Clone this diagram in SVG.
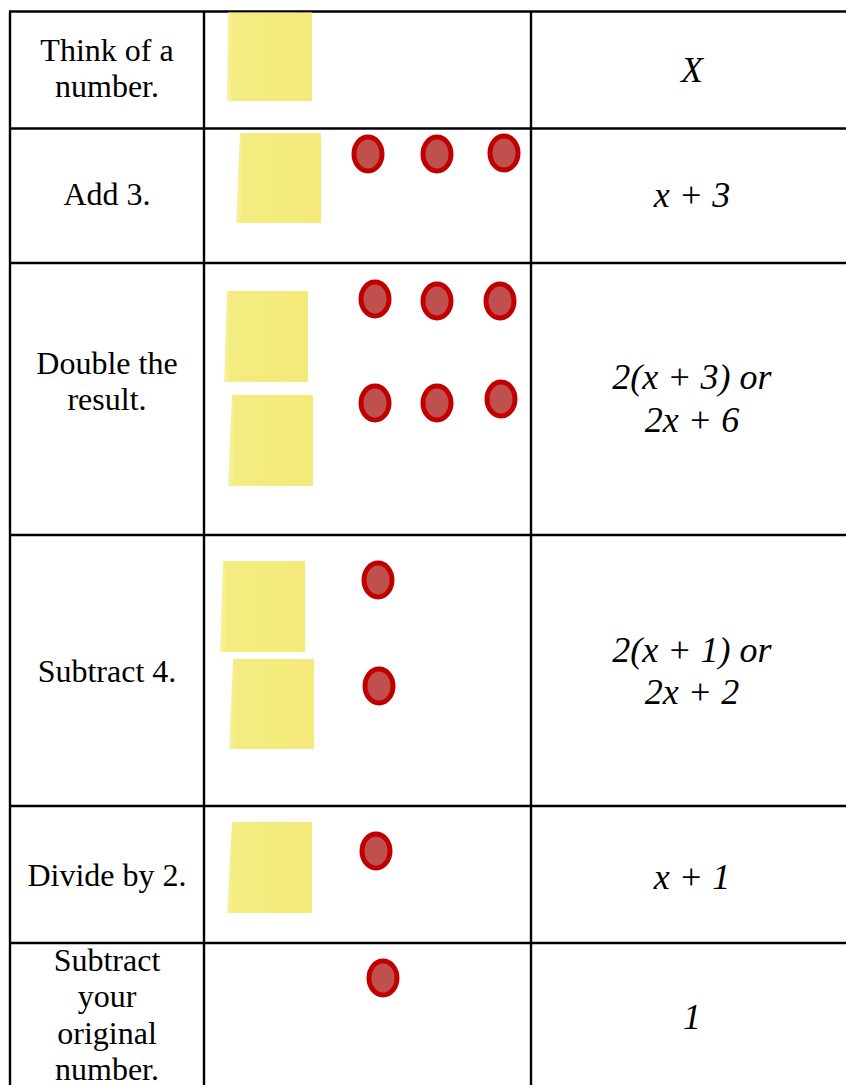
<svg xmlns="http://www.w3.org/2000/svg" width="846" height="1085" viewBox="0 0 846 1085">
<style>
.step{font-family:"Liberation Serif","Times New Roman",serif;font-size:32px;fill:#000;text-anchor:middle}
.expr{font-family:"Liberation Serif","Times New Roman",serif;font-size:36px;font-style:italic;fill:#000;text-anchor:middle}
.grid line{stroke:#000;stroke-width:2.4}
.note{fill:url(#noteGrad)}
.chip{fill:#C0504D;stroke:#C00000;stroke-width:5}
</style>
<defs>
<linearGradient id="noteGrad" x1="0" y1="0" x2="1" y2="0">
<stop offset="0" stop-color="#F8F2A8"/>
<stop offset="0.08" stop-color="#F3EC80"/>
<stop offset="1" stop-color="#F4EA7A"/>
</linearGradient>
</defs>
<rect x="0" y="0" width="846" height="1085" fill="#fff"/>
<g id="connectors" class="grid">
<line x1="10" y1="11.5" x2="10" y2="1085"/>
<line x1="204" y1="11.5" x2="204" y2="1085"/>
<line x1="531" y1="11.5" x2="531" y2="1085"/>
<line x1="9" y1="11.5" x2="846" y2="11.5"/>
<line x1="9" y1="128.5" x2="846" y2="128.5"/>
<line x1="9" y1="263" x2="846" y2="263"/>
<line x1="9" y1="535" x2="846" y2="535"/>
<line x1="9" y1="806" x2="846" y2="806"/>
<line x1="9" y1="943" x2="846" y2="943"/>
</g>
<g id="row1">
<text class="step" x="107" y="61">Think of a</text>
<text class="step" x="107" y="97">number.</text>
<polygon class="note" points="228,12.5 312,12.5 312,101 227,101"/>
<text class="expr" x="692" y="82">X</text>
</g>
<g id="row2">
<text class="step" x="107" y="205">Add 3.</text>
<polygon class="note" points="240,133 321,133 321,223 236,223"/>
<ellipse class="chip" cx="368" cy="154" rx="14" ry="17"/>
<ellipse class="chip" cx="437" cy="154" rx="14" ry="17"/>
<ellipse class="chip" cx="504" cy="153" rx="14" ry="17"/>
<text class="expr" x="692" y="207">x + 3</text>
</g>
<g id="row3">
<text class="step" x="107" y="374">Double the</text>
<text class="step" x="107" y="410">result.</text>
<polygon class="note" points="227,291 308,291 308,382 224,382"/>
<polygon class="note" points="232,395 313,395 313,486 228,486"/>
<ellipse class="chip" cx="375" cy="299" rx="14" ry="17"/>
<ellipse class="chip" cx="437" cy="301" rx="14" ry="17"/>
<ellipse class="chip" cx="500" cy="301" rx="14" ry="17"/>
<ellipse class="chip" cx="375" cy="403" rx="14" ry="17"/>
<ellipse class="chip" cx="437" cy="403" rx="14" ry="17"/>
<ellipse class="chip" cx="501" cy="399" rx="14" ry="17"/>
<text class="expr" x="692" y="389">2(x + 3) or</text>
<text class="expr" x="692" y="432">2x + 6</text>
</g>
<g id="row4">
<text class="step" x="107" y="682">Subtract 4.</text>
<polygon class="note" points="223,561 305,561 305,652 220,652"/>
<polygon class="note" points="233,659 314,659 314,749 229,749"/>
<ellipse class="chip" cx="378" cy="580" rx="14" ry="17"/>
<ellipse class="chip" cx="379" cy="686" rx="14" ry="17"/>
<text class="expr" x="692" y="662">2(x + 1) or</text>
<text class="expr" x="692" y="704">2x + 2</text>
</g>
<g id="row5">
<text class="step" x="107" y="886">Divide by 2.</text>
<polygon class="note" points="232,822 312,822 312,913 227,913"/>
<ellipse class="chip" cx="376" cy="851" rx="14" ry="17"/>
<text class="expr" x="692" y="889">x + 1</text>
</g>
<g id="row6">
<text class="step" x="107" y="971">Subtract</text>
<text class="step" x="107" y="1007">your</text>
<text class="step" x="107" y="1044">original</text>
<text class="step" x="107" y="1080">number.</text>
<ellipse class="chip" cx="383" cy="978" rx="14" ry="17"/>
<text class="expr" x="692" y="1029">1</text>
</g>
</svg>
